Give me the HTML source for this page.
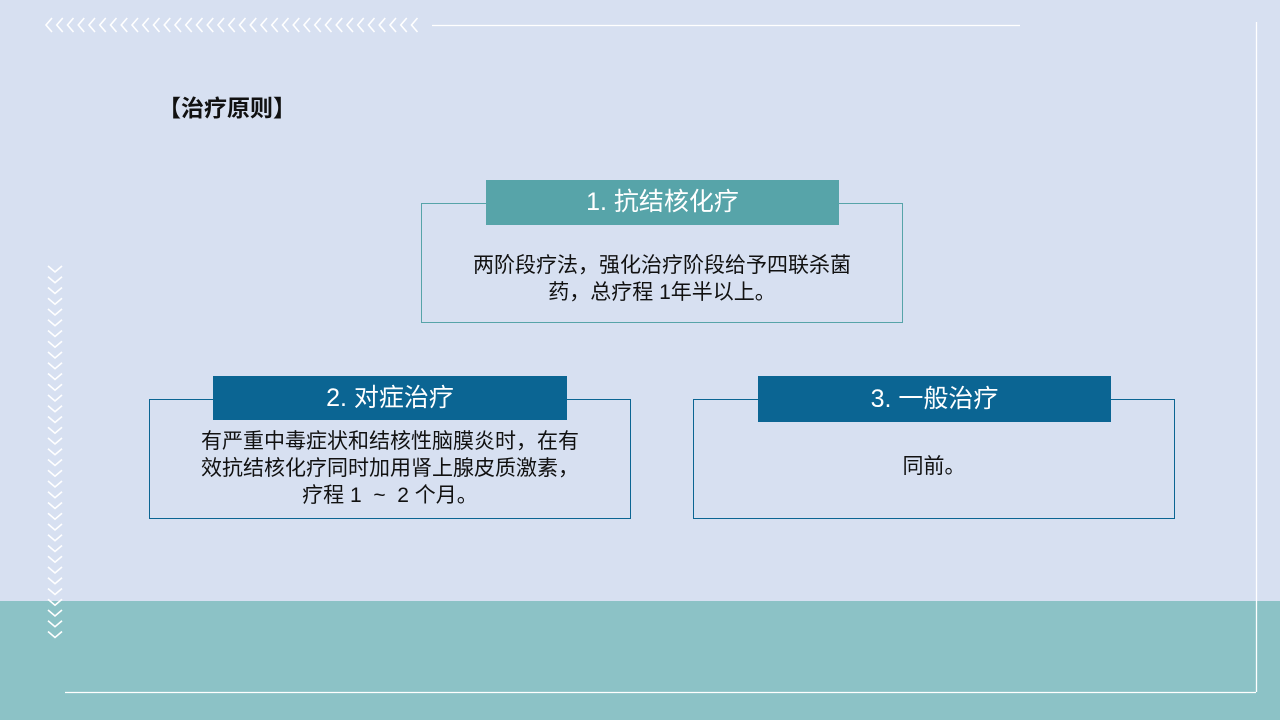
<!DOCTYPE html>
<html><head><meta charset="utf-8"><style>
body{margin:0;width:1280px;height:720px;overflow:hidden;background:#d7e0f1;position:relative;font-family:"Liberation Sans","Noto Sans CJK SC",sans-serif;}
.abs{position:absolute;}
.box{position:absolute;border:1px solid #0b6593;box-sizing:border-box;}
.hd{position:absolute;color:#fff;font-size:25px;text-align:center;box-sizing:border-box;}
.tx{position:absolute;font-size:21px;line-height:27px;text-align:center;color:#111;}
</style></head><body>
<div class="abs" style="left:0;top:601px;width:1280px;height:119px;background:#8cc2c6"></div>
<svg class="abs" style="left:0;top:0" width="1280" height="720">
<g fill="none" stroke="#fff" stroke-width="1.3">
<line x1="432" y1="25.5" x2="1020" y2="25.5"/>
<line x1="1256.5" y1="22" x2="1256.5" y2="692"/>
<line x1="65" y1="692.5" x2="1256" y2="692.5"/>
</g>
<g id="h" fill="none" stroke="#fff" stroke-width="1.6"></g>
<g id="v" fill="none" stroke="#fff" stroke-width="1.6"></g>
</svg>
<script>
var h=document.getElementById('h'),v=document.getElementById('v'),s='',t='';
for(var i=0;i<35;i++){var x=46+i*10.75;s+='<polyline points="'+(x+6)+',18 '+x+',25 '+(x+6)+',32"/>';}
for(var i=0;i<35;i++){var y=266+i*10.75;t+='<polyline points="48,'+y+' 55,'+(y+6)+' 62,'+y+'"/>';}
h.innerHTML=s;v.innerHTML=t;
</script>
<div class="abs" style="left:158px;top:89px;font-size:23px;font-weight:bold;color:#111">【治疗原则】</div>

<div class="box" style="left:421px;top:203px;width:482px;height:120px;border-color:#57a4a9"></div>
<div class="hd" style="left:486px;top:180px;width:353px;height:45px;line-height:45px;background:#57a4a9">1. 抗结核化疗</div>
<div class="tx" style="left:421px;top:252px;width:482px">两阶段疗法，强化治疗阶段给予四联杀菌<br>药，总疗程 1年半以上。</div>

<div class="box" style="left:149px;top:399px;width:482px;height:120px"></div>
<div class="hd" style="left:213px;top:376px;width:354px;height:44px;line-height:44px;background:#0b6593">2. 对症治疗</div>
<div class="tx" style="left:149px;top:428px;width:482px">有严重中毒症状和结核性脑膜炎时，在有<br>效抗结核化疗同时加用肾上腺皮质激素，<br>疗程 1 &nbsp;~&nbsp; 2 个月。</div>

<div class="box" style="left:693px;top:399px;width:482px;height:120px"></div>
<div class="hd" style="left:758px;top:376px;width:353px;height:46px;line-height:46px;background:#0b6593">3. 一般治疗</div>
<div class="tx" style="left:693px;top:453px;width:482px">同前。</div>
</body></html>
